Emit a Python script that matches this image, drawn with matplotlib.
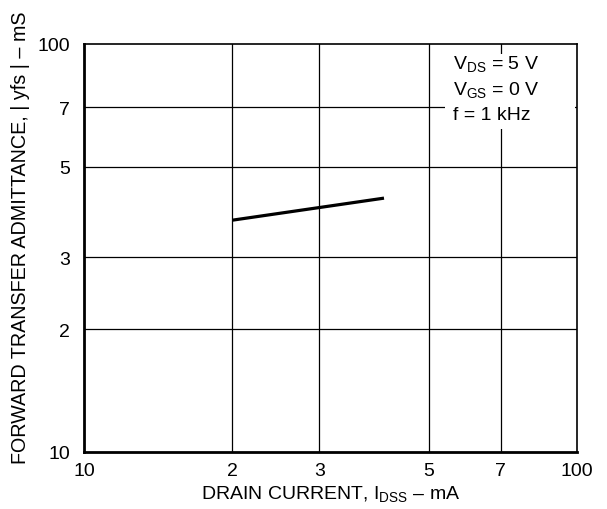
import matplotlib
matplotlib.use("Agg")
import matplotlib.pyplot as plt
from matplotlib.patches import Rectangle

# Data
x_current = [2.0, 4.06]
y_yfs = [3.70, 4.19]

x_ticks = [1, 2, 3, 5, 7, 10]
x_ticklabels = ["10", "2", "3", "5", "7", "100"]
y_ticks = [1, 2, 3, 5, 7, 10]
y_ticklabels = ["10", "2", "3", "5", "7", "100"]
grid_vals = [2, 3, 5, 7]

plt.rcParams['font.family'] = ['Liberation Sans', 'DejaVu Sans']
plt.rcParams['mathtext.fontset'] = 'custom'
plt.rcParams['mathtext.rm'] = 'Liberation Sans'
plt.rcParams['mathtext.it'] = 'Liberation Sans'
plt.rcParams['mathtext.default'] = 'rm'

FS = 14

fig = plt.figure(figsize=(6.07, 5.10), dpi=100)
ax = fig.add_axes([84/607, 57/510, 493/607, 408/510])
ax.set_xscale('log')
ax.set_yscale('log')
ax.set_xlim(1, 10)
ax.set_ylim(1, 10)

for v in grid_vals:
    ax.axvline(v, color='black', lw=0.9, zorder=1)
    ax.axhline(v, color='black', lw=0.9, zorder=1)

ax.add_patch(Rectangle((0.732, 0.792), 0.264, 0.183, transform=ax.transAxes,
                       facecolor='white', edgecolor='none', zorder=2))

ax.plot(x_current, y_yfs, color='black', lw=2.3, solid_capstyle='butt', zorder=3)

ax.set_xticks(x_ticks)
ax.set_xticklabels(x_ticklabels)
ax.set_yticks(y_ticks)
ax.set_yticklabels(y_ticklabels)
ax.minorticks_off()
ax.tick_params(axis='both', length=0, labelsize=FS)
ax.tick_params(axis='x', pad=7)
ax.tick_params(axis='y', pad=10)

for s in ['left', 'bottom']:
    ax.spines[s].set_linewidth(2.0)
for s in ['top', 'right']:
    ax.spines[s].set_linewidth(1.2)

ax.set_xlabel(r"DRAIN CURRENT, I$_{\rm DSS}$ – mA", fontsize=FS, labelpad=3)
ax.set_ylabel("FORWARD TRANSFER ADMITTANCE, | yfs | – mS", fontsize=14.2)
ax.yaxis.set_label_coords((30 - 84) / 493, (453 - 238) / 408)

tx = (453 - 84) / 493
for ypx, s in [(64, r"V$_{\rm DS}$ = 5 V"), (90, r"V$_{\rm GS}$ = 0 V"), (116, "f = 1 kHz")]:
    ax.text(tx, (453 - ypx) / 408, s, transform=ax.transAxes, fontsize=FS,
            va='center', ha='left', zorder=4)

fig.savefig("out.png", dpi=100)
